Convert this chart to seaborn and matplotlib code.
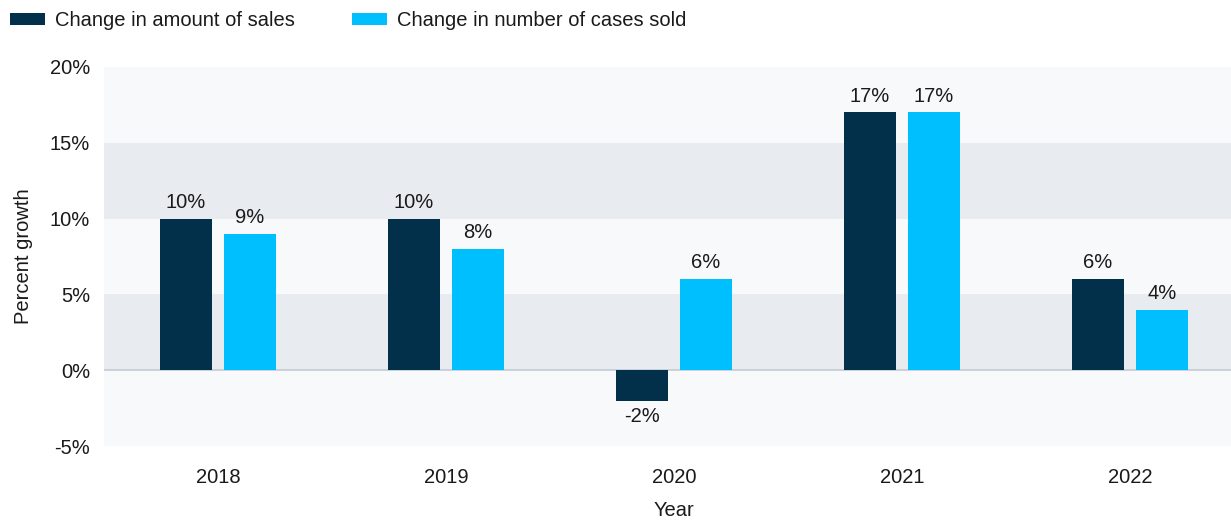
import matplotlib
matplotlib.use("Agg")
import matplotlib.pyplot as plt
from matplotlib.patches import Patch
import seaborn as sns
import pandas as pd

# Growth figures by year
years = ["2018", "2019", "2020", "2021", "2022"]
sales_change = [10, 10, -2, 17, 6]
cases_change = [9, 8, 6, 17, 4]
series_names = ["Change in amount of sales", "Change in number of cases sold"]
y_ticks = [-5, 0, 5, 10, 15, 20]

dark = "#02304a"
cyan = "#00bfff"
band_light = "#f8f9fb"
band_dark = "#e8ebf0"
text_color = "#1a1a1a"
fs = 14.5

df = pd.DataFrame({
    "Year": years * 2,
    "Series": [series_names[0]] * len(years) + [series_names[1]] * len(years),
    "Value": sales_change + cases_change,
})

sns.set_theme(style="white")
plt.rcParams["font.family"] = ["Liberation Sans", "DejaVu Sans"]

fig = plt.figure(figsize=(12.31, 5.23), dpi=100)
W, H = 1231, 523
ax = fig.add_axes([104 / W, 1 - 446 / H, (1244 - 104) / W, (446 - 67) / H])

# alternating horizontal bands
for lo, hi in zip(y_ticks[:-1], y_ticks[1:]):
    ax.axhspan(lo, hi, color=band_dark if lo in (0, 10) else band_light, lw=0, zorder=0)
ax.axhline(0, color="#c3cbd5", lw=1.2, zorder=1)

sns.barplot(data=df, x="Year", y="Value", hue="Series", order=years,
            hue_order=series_names, palette=[dark, cyan], width=0.56, gap=0.19,
            saturation=1, legend=False, linewidth=0, ax=ax, zorder=2)

for cont in ax.containers:
    labels = [f"{v:.0f}%" for v in cont.datavalues]
    ax.bar_label(cont, labels=labels, padding=5, fontsize=fs, color=text_color)

ax.set_xlim(-0.5, 4.5)
ax.set_ylim(-5, 20)
ax.set_yticks(y_ticks)
ax.set_yticklabels([f"{t}%" for t in y_ticks], fontsize=fs, color=text_color)
ax.tick_params(axis="both", length=0)
ax.tick_params(axis="x", labelsize=fs, labelcolor=text_color, pad=16)
ax.tick_params(axis="y", pad=10)
ax.set_xlabel("Year", fontsize=fs, color=text_color, labelpad=10)
ax.set_ylabel("Percent growth", fontsize=fs, color=text_color, labelpad=12)
for s in ax.spines.values():
    s.set_visible(False)

handles = [Patch(facecolor=dark, edgecolor="none"), Patch(facecolor=cyan, edgecolor="none")]
fig.legend(handles, series_names, loc="upper left", bbox_to_anchor=(10 / W, 1 - 11 / H),
           ncol=2, frameon=False, fontsize=fs, handlelength=1.75, handleheight=0.6,
           handletextpad=0.5, columnspacing=2.8, labelcolor=text_color,
           borderpad=0, borderaxespad=0)

fig.savefig("out.png", dpi=100)
